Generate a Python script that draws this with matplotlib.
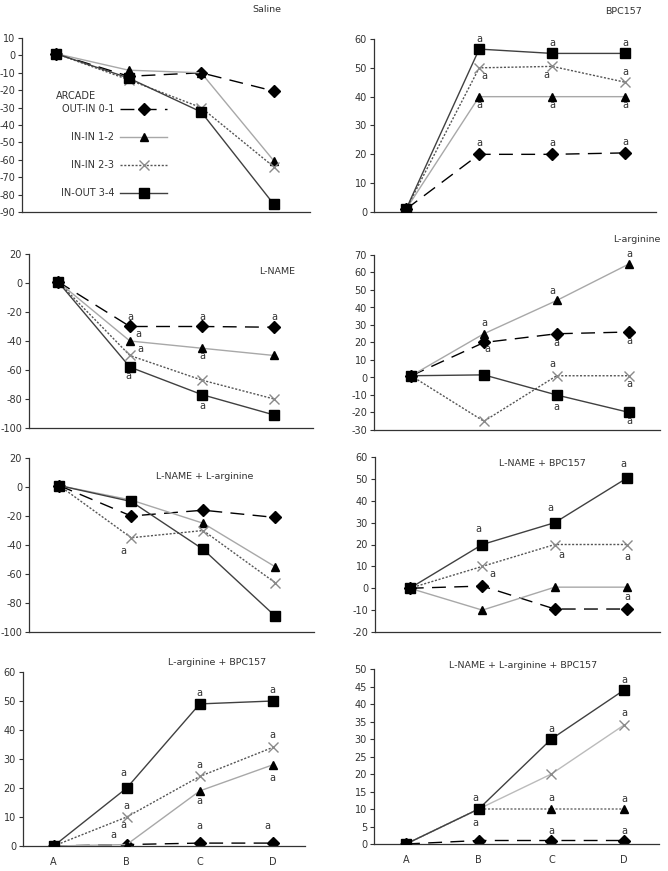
import numpy as np
import matplotlib
matplotlib.use("Agg")
import matplotlib.pyplot as plt

# time points
stages = ["A", "B", "C", "D"]
series_names = ["OUT-IN 0-1", "IN-IN 1-2", "IN-IN 2-3", "IN-OUT 3-4"]

# one list per series (diamond, triangle, cross, square)
saline = [[1, -12, -10, -20.5], [1, -8.5, -10, -60.5], [1, -14, -30, -64], [1, -13, -32.5, -85.5]]
bpc157 = [[1, 20, 20, 20.5], [1, 40, 40, 40], [1, 50, 50.5, 45], [1, 56.5, 55, 55]]
lname = [[1, -30, -30, -30.5], [1, -40, -45, -50], [1, -50, -67, -80], [1, -58, -77, -91]]
larg = [[1, 20, 25, 26], [1, 25, 44, 65], [1, -25, 1, 1], [1, 1.5, -10, -20]]
lname_larg = [[1, -20, -16, -21], [1, -9, -25, -55], [1, -35, -30, -66], [1, -10, -43, -89]]
lname_bpc = [[0, 1, -9.5, -9.5], [0, -10, 0.5, 0.5], [0, 10, 20, 20], [0, 20, 30, 50.5]]
larg_bpc = [[0, 0.5, 1, 1], [0, 0.5, 19, 28], [0, 10, 24, 34], [0, 20, 49, 50]]
all_three = [[0, 1, 1, 1], [0, 10, 10, 10], [0, 10, 20, 34], [0, 10, 30, 44]]

titles = ["Saline", "BPC157", "L-NAME", "L-arginine", "L-NAME + L-arginine",
          "L-NAME + BPC157", "L-arginine + BPC157", "L-NAME + L-arginine + BPC157"]
panels = [saline, bpc157, lname, larg, lname_larg, lname_bpc, larg_bpc, all_three]
yticks = [np.arange(-90, 11, 10), np.arange(0, 61, 10), np.arange(-100, 21, 20),
          np.arange(-30, 71, 10), np.arange(-100, 21, 20), np.arange(-20, 61, 10),
          np.arange(0, 61, 10), np.arange(0, 51, 5)]

# significance marks: (series, point, dx px, dy px)
marks = [
    [],
    [(3, 1, 0, 10), (3, 2, 0, 10), (3, 3, 0, 10), (2, 1, 5, -8), (2, 2, -6, -9), (2, 3, 0, 10),
     (1, 1, 0, -8), (1, 2, 0, -8), (1, 3, 0, -8), (0, 1, 0, 11), (0, 2, 0, 11), (0, 3, 0, 11)],
    [(0, 1, 0, 10), (0, 2, 0, 10), (0, 3, 0, 10), (1, 1, 8, 7), (2, 1, 10, 7), (1, 2, 0, -8),
     (3, 1, -2, -9), (3, 2, 0, -11)],
    [(1, 1, 0, 11), (1, 2, -4, 9), (1, 3, 0, 10), (0, 1, 3, -7), (0, 2, 0, -9), (0, 3, 0, -9),
     (2, 2, -4, 12), (2, 3, 0, -8), (3, 2, 0, -12), (3, 3, 0, -9)],
    [(2, 1, -8, -13)],
    [(3, 1, -4, 16), (3, 2, -4, 15), (3, 3, -4, 14), (2, 1, 10, -8), (2, 2, 7, -11), (2, 3, 0, -13),
     (1, 3, 0, -10)],
    [(3, 1, -3, 15), (3, 2, 0, 11), (3, 3, 0, 11), (2, 1, 0, 11), (2, 2, 0, 11), (2, 3, 0, 12),
     (2, 1, -3, -8), (1, 1, -13, 10), (1, 2, 0, -10), (1, 3, 0, -13), (0, 2, 0, 17), (0, 3, -5, 17)],
    [(3, 1, -3, 11), (3, 2, 0, 10), (3, 3, 0, 10), (2, 3, 0, 12), (1, 2, 0, 11), (1, 3, 0, 10),
     (0, 1, -3, 18), (0, 2, 0, 10), (0, 3, 0, 10)],
]

W, H = 668, 871
# axes boxes in pixels: left, right, top, bottom; x limits
boxes = [(22, 310, 38, 212), (374, 656, 39, 212), (29, 313, 254, 428), (374, 660, 255, 430),
         (29, 314, 458, 632), (375, 660, 457, 632), (23, 305, 672, 846), (374, 659, 669, 844)]
xlims = [(-0.47, 3.5), (-0.44, 3.42), (-0.4, 3.54), (-0.51, 3.42),
         (-0.42, 3.54), (-0.48, 3.45), (-0.42, 3.44), (-0.44, 3.48)]
title_pos = [(267, 10), (623, 11), (277, 272), (637, 239), (205, 476), (542, 463), (217, 662), (523, 665)]

styles = [
    dict(color="black", lw=1.0, dashes=(10, 6), marker="D", ms=6.5, mfc="black", mec="black"),
    dict(color="#a8a8a8", lw=1.0, ls="-", marker="^", ms=5.5, mfc="black", mec="black"),
    dict(color="#555555", lw=1.0, dashes=(1.5, 1.2), marker="x", ms=7, mfc="none", mec="#8a8a8a", mew=1.0),
    dict(color="#404040", lw=1.0, ls="-", marker="s", ms=6.5, mfc="black", mec="black"),
]

plt.rcParams["font.family"] = "DejaVu Sans"
plt.rcParams["axes.unicode_minus"] = False
fs = 7
fig = plt.figure(figsize=(W / 100, H / 100), dpi=100)
x = np.arange(len(stages))

for k, data in enumerate(panels):
    l, r, t, b = boxes[k]
    ax = fig.add_axes([l / W, 1 - b / H, (r - l) / W, (b - t) / H])
    for s, vals in enumerate(data):
        st = dict(styles[s])
        if k == 7 and s == 1:
            st["color"], st["dashes"] = "#666666", (1.5, 1.2)
            st.pop("ls", None)
        if k == 7 and s == 2:
            st["color"] = "#bbbbbb"
            st.pop("dashes", None)
            st["ls"] = "-"
        ax.plot(x, vals, label=series_names[s], zorder=2 + s, **st)
    for s, i, dx, dy in marks[k]:
        ax.annotate("a", (x[i], data[s][i]), xytext=(dx, dy), textcoords="offset pixels",
                    ha="center", va="center", fontsize=fs, color="#333333")
    ax.set_xlim(*xlims[k])
    ax.set_ylim(yticks[k][0], yticks[k][-1])
    ax.set_yticks(yticks[k])
    ax.spines["top"].set_visible(False)
    ax.spines["right"].set_visible(False)
    for sp in ("left", "bottom"):
        ax.spines[sp].set_color("#333333")
        ax.spines[sp].set_linewidth(0.9)
    ax.tick_params(axis="y", length=3, width=0.8, color="#333333", labelsize=fs,
                   labelcolor="#333333", pad=2)
    ax.set_xticks(x)
    if k >= 6:
        ax.set_xticklabels(stages)
        ax.tick_params(axis="x", length=0, labelsize=fs, labelcolor="#333333", pad=8)
    else:
        ax.set_xticklabels([])
        ax.tick_params(axis="x", length=0)
    fig.text(title_pos[k][0] / W, 1 - title_pos[k][1] / H, titles[k], ha="center", va="center",
             fontsize=6.8, color="#333333")
    if k == 0:
        ax.legend(loc="upper right", bbox_to_anchor=((167 - l) / (r - l), (b - 104) / (b - t)),
                  frameon=False, markerfirst=False, numpoints=1, handlelength=4.8,
                  handletextpad=0.6, labelspacing=1.85, fontsize=fs, borderpad=0,
                  borderaxespad=0, labelcolor="#333333")
        ax.text((76 - l) / (r - l), (b - 96) / (b - t), "ARCADE", transform=ax.transAxes,
                ha="center", va="center", fontsize=fs, color="#333333")

fig.savefig("out.png", dpi=100)
